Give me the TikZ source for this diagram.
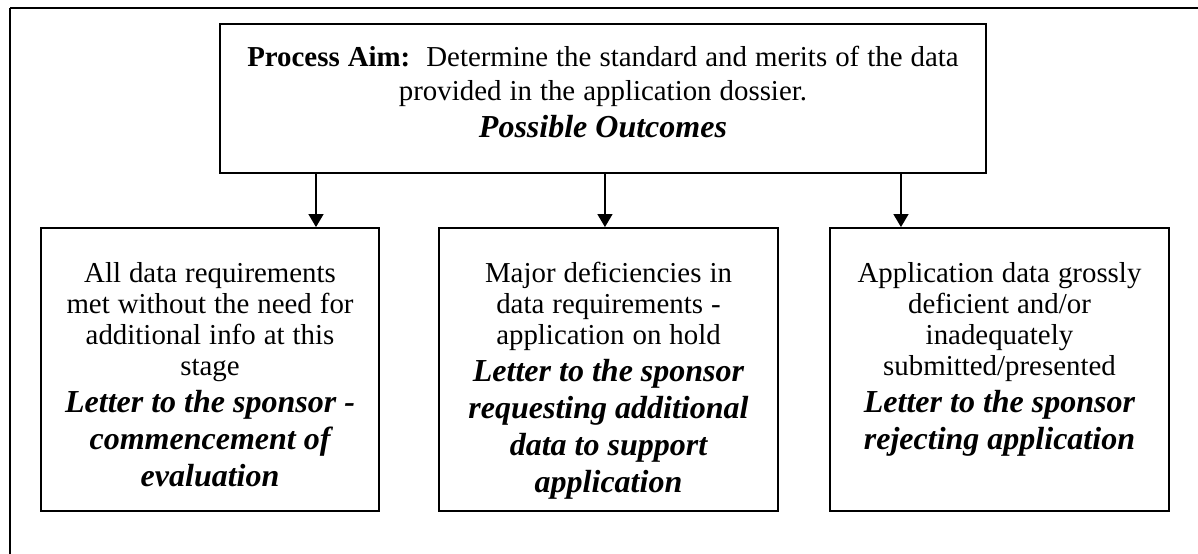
\documentclass[tikz,border=0pt]{standalone}
\usepackage{fontspec}
\setmainfont{Liberation Serif}
\usetikzlibrary{positioning}
\usetikzlibrary{arrows.meta}

\newcommand{\plainsz}{\fontsize{12pt}{12.9pt}\selectfont}
\newcommand{\lettersz}{\fontsize{13.3pt}{15.4pt}\selectfont\bfseries\itshape}

\begin{document}
\begin{tikzpicture}[
    outbox/.style={draw, line width=0.85pt, minimum width=4.95cm, minimum height=4.13cm, inner sep=0pt},
    outtext/.style={anchor=base, text width=4.8cm, align=center, inner sep=0pt},
    arr/.style={line width=0.65pt, -{Triangle[length=5.4pt,width=6.2pt]}}]
    \useasboundingbox (0,0) rectangle (17.5,-8.092);
    % page frame
    \draw[line width=1pt] (0.146,-0.117) -- (17.5,-0.117);
    \draw[line width=0.85pt] (0.146,-0.117) -- (0.146,-8.092);
    % process aim
    \node[draw, line width=0.85pt, minimum width=11.19cm, minimum height=2.176cm, inner sep=0pt] (aim) at (8.808,-1.439) {};
    \node[anchor=base, text width=11cm, align=center, inner sep=0pt] (aimtext) at ([yshift=-0.628cm]aim.north)
        {{\fontsize{12pt}{14.5pt}\selectfont\textbf{Process Aim:}\ \ Determine the standard and merits of the data\\ provided in the application dossier.\par}{\lettersz Possible Outcomes\par}};
    % outcomes
    \node[outbox] (met) at (3.068,-5.397) {};
    \node[outbox] (hold) at (8.889,-5.397) {};
    \node[outbox] (reject) at (14.600,-5.397) {};
    \node[outtext] (mettext) at ([yshift=-0.803cm]met.north)
        {{\plainsz All data requirements\\ met without the need for\\ additional info at this\\ stage\par}{\lettersz Letter to the sponsor -\\ commencement of\\ evaluation\par}};
    \node[outtext] (holdtext) at ([yshift=-0.803cm]hold.north)
        {{\plainsz Major deficiencies in\\ data requirements -\\ application on hold\par}{\lettersz Letter to the sponsor\\ requesting additional\\ data to support\\ application\par}};
    \node[outtext] (rejecttext) at ([yshift=-0.803cm]reject.north)
        {{\plainsz Application data grossly\\ deficient and/or\\ inadequately\\ submitted/presented\par}{\lettersz Letter to the sponsor\\ rejecting application\par}};
    % arrows
    \coordinate (a1) at (4.616,0);
    \coordinate (a2) at (8.837,0);
    \coordinate (a3) at (13.161,0);
    \draw[arr] (aim.south -| a1) -- (met.north -| a1);
    \draw[arr] (aim.south -| a2) -- (hold.north -| a2);
    \draw[arr] (aim.south -| a3) -- (reject.north -| a3);
\end{tikzpicture}
\end{document}
